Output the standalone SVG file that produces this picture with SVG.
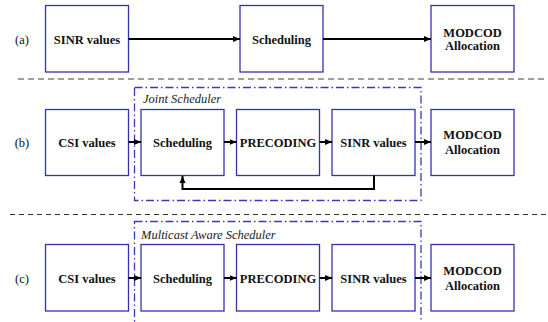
<svg xmlns="http://www.w3.org/2000/svg" width="548" height="322" viewBox="0 0 548 322" font-family="Liberation Serif, serif">
<defs>
<style>
.box{fill:#fff;stroke:#3434a8;stroke-width:1.3}
.t{font-weight:bold;font-size:12.5px;text-anchor:middle;fill:#111}
.lbl{font-size:12.5px;text-anchor:middle;fill:#111}
.it{font-style:italic;font-size:12.5px;fill:#222}
.grp{fill:none;stroke:#3a3ab8;stroke-width:1.3;stroke-dasharray:8,3,1.5,3}
.c{fill:none;stroke:#000;stroke-width:2}
.sep1{stroke:#808080;stroke-width:1.5;stroke-dasharray:6,4}
.sep2{stroke:#333;stroke-width:1.2;stroke-dasharray:5,4}
</style>
<marker id="ah" markerUnits="userSpaceOnUse" markerWidth="8" markerHeight="8" viewBox="0 0 8 8" refX="7" refY="4" orient="auto">
<path d="M0,1 L7,4 L0,7 z" fill="#000"/>
</marker>
</defs>
<g id="separators">
<line class="sep1" x1="18" y1="79" x2="548" y2="79"/>
<line class="sep2" x1="10" y1="214.5" x2="548" y2="214.5"/>
</g>
<g id="labels" font-family="Liberation Serif, serif">
<text class="lbl" x="22" y="43.5">(a)</text>
<text class="lbl" x="22" y="146.5">(b)</text>
<text class="lbl" x="22" y="282.5">(c)</text>
</g>
<g id="joint-scheduler" font-family="Liberation Serif, serif">
<rect class="grp" x="134.5" y="87.5" width="286.5" height="113"/>
<text class="it" x="143" y="103">Joint Scheduler</text>
</g>
<g id="multicast-scheduler" font-family="Liberation Serif, serif">
<rect class="grp" x="134.5" y="221.5" width="286.5" height="110"/>
<text class="it" x="141" y="239">Multicast Aware Scheduler</text>
</g>
<g font-family="Liberation Serif, serif">
<g id="a-sinr"><rect class="box" x="45.5" y="5.5" width="83" height="66.5"/><text class="t" x="87" y="43.5">SINR values</text></g>
<g id="a-sched"><rect class="box" x="240" y="5.5" width="83" height="66.5"/><text class="t" x="281.5" y="43.5">Scheduling</text></g>
<g id="a-modcod"><rect class="box" x="431" y="5.5" width="83" height="66.5"/><text class="t" x="472.5" y="36.5">MODCOD</text><text class="t" x="472.5" y="50">Allocation</text></g>
<g id="b-csi"><rect class="box" x="45.5" y="109.5" width="83" height="66"/><text class="t" x="87" y="146.5">CSI values</text></g>
<g id="b-sched"><rect class="box" x="141" y="109.5" width="83" height="66"/><text class="t" x="182.5" y="146.5">Scheduling</text></g>
<g id="b-prec"><rect class="box" x="236.5" y="109.5" width="83" height="66"/><text class="t" x="278" y="146.5">PRECODING</text></g>
<g id="b-sinr"><rect class="box" x="332" y="109.5" width="83" height="66"/><text class="t" x="373.5" y="146.5">SINR values</text></g>
<g id="b-modcod"><rect class="box" x="431" y="109.5" width="83" height="66"/><text class="t" x="472.5" y="138.5">MODCOD</text><text class="t" x="472.5" y="154">Allocation</text></g>
<g id="c-csi"><rect class="box" x="45.5" y="244.5" width="83" height="66.5"/><text class="t" x="87" y="282.5">CSI values</text></g>
<g id="c-sched"><rect class="box" x="141" y="244.5" width="83" height="66.5"/><text class="t" x="182.5" y="282.5">Scheduling</text></g>
<g id="c-prec"><rect class="box" x="236.5" y="244.5" width="83" height="66.5"/><text class="t" x="278" y="282.5">PRECODING</text></g>
<g id="c-sinr"><rect class="box" x="332" y="244.5" width="83" height="66.5"/><text class="t" x="373.5" y="282.5">SINR values</text></g>
<g id="c-modcod"><rect class="box" x="431" y="244.5" width="83" height="66.5"/><text class="t" x="472.5" y="274.5">MODCOD</text><text class="t" x="472.5" y="290">Allocation</text></g>
</g>
<g id="connectors">
<line class="c" x1="128.5" y1="39" x2="240" y2="39" marker-end="url(#ah)"/>
<line class="c" x1="323" y1="39" x2="431" y2="39" marker-end="url(#ah)"/>
<line class="c" x1="128.5" y1="142" x2="141" y2="142" marker-end="url(#ah)"/>
<line class="c" x1="224" y1="142" x2="236.5" y2="142" marker-end="url(#ah)"/>
<line class="c" x1="319.5" y1="142" x2="332" y2="142" marker-end="url(#ah)"/>
<line class="c" x1="415" y1="142" x2="431" y2="142" marker-end="url(#ah)"/>
<polyline class="c" points="374,175.5 374,189 182.5,189 182.5,176" marker-end="url(#ah)"/>
<line class="c" x1="128.5" y1="278" x2="141" y2="278" marker-end="url(#ah)"/>
<line class="c" x1="224" y1="278" x2="236.5" y2="278" marker-end="url(#ah)"/>
<line class="c" x1="319.5" y1="278" x2="332" y2="278" marker-end="url(#ah)"/>
<line class="c" x1="415" y1="278" x2="431" y2="278" marker-end="url(#ah)"/>
</g>
</svg>
